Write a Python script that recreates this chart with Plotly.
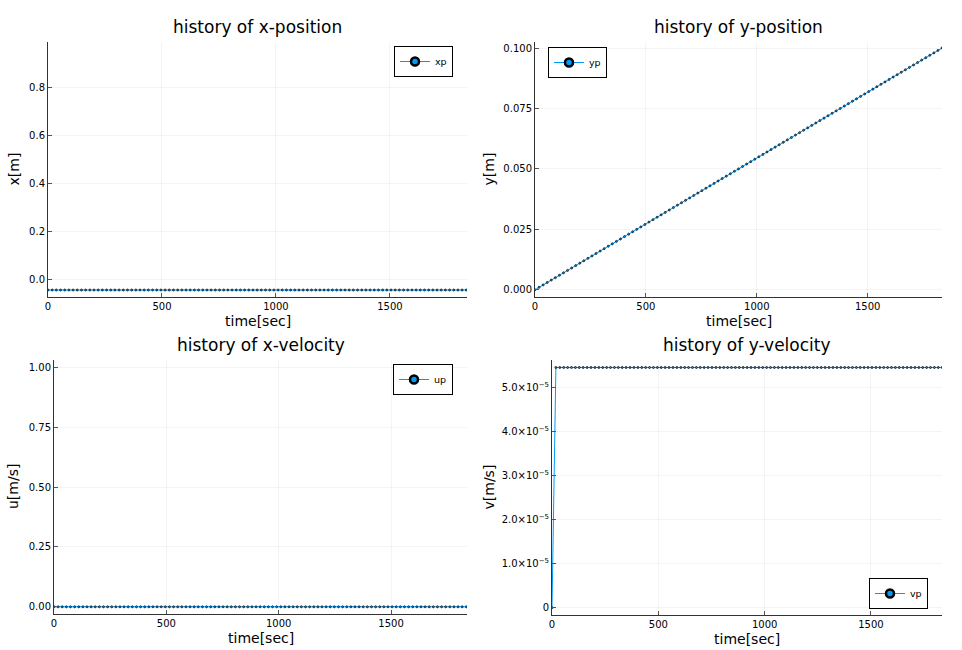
import plotly.graph_objects as go

# ---------------- data ----------------
time = [0.00, 18.35, 36.70, 55.05, 73.40, 91.75, 110.10, 128.45, 146.80, 165.15,
        183.50, 201.85, 220.20, 238.55, 256.90, 275.25, 293.60, 311.95, 330.30, 348.65,
        367.00, 385.35, 403.70, 422.05, 440.40, 458.75, 477.10, 495.45, 513.80, 532.15,
        550.50, 568.85, 587.20, 605.55, 623.90, 642.25, 660.60, 678.95, 697.30, 715.65,
        734.00, 752.35, 770.70, 789.05, 807.40, 825.75, 844.10, 862.45, 880.80, 899.15,
        917.50, 935.85, 954.20, 972.55, 990.90, 1009.25, 1027.60, 1045.95, 1064.30, 1082.65,
        1101.00, 1119.35, 1137.70, 1156.05, 1174.40, 1192.75, 1211.10, 1229.45, 1247.80, 1266.15,
        1284.50, 1302.85, 1321.20, 1339.55, 1357.90, 1376.25, 1394.60, 1412.95, 1431.30, 1449.65,
        1468.00, 1486.35, 1504.70, 1523.05, 1541.40, 1559.75, 1578.10, 1596.45, 1614.80, 1633.15,
        1651.50, 1669.85, 1688.20, 1706.55, 1724.90, 1743.25, 1761.60, 1779.95, 1798.30, 1816.65,
        1835.00]

xp = [-0.042] * 101

yp = [0.000, 0.001, 0.002, 0.003, 0.004, 0.005, 0.006, 0.007, 0.008, 0.009,
      0.010, 0.011, 0.012, 0.013, 0.014, 0.015, 0.016, 0.017, 0.018, 0.019,
      0.020, 0.021, 0.022, 0.023, 0.024, 0.025, 0.026, 0.027, 0.028, 0.029,
      0.030, 0.031, 0.032, 0.033, 0.034, 0.035, 0.036, 0.037, 0.038, 0.039,
      0.040, 0.041, 0.042, 0.043, 0.044, 0.045, 0.046, 0.047, 0.048, 0.049,
      0.050, 0.051, 0.052, 0.053, 0.054, 0.055, 0.056, 0.057, 0.058, 0.059,
      0.060, 0.061, 0.062, 0.063, 0.064, 0.065, 0.066, 0.067, 0.068, 0.069,
      0.070, 0.071, 0.072, 0.073, 0.074, 0.075, 0.076, 0.077, 0.078, 0.079,
      0.080, 0.081, 0.082, 0.083, 0.084, 0.085, 0.086, 0.087, 0.088, 0.089,
      0.090, 0.091, 0.092, 0.093, 0.094, 0.095, 0.096, 0.097, 0.098, 0.099,
      0.100]

up = [0.0] * 101

vp = [0.0] + [5.45e-5] * 100

x_ticks = [0, 500, 1000, 1500]
x_ticklabels = ["0", "500", "1000", "1500"]
xp_ticks = [0.0, 0.2, 0.4, 0.6, 0.8]
xp_ticklabels = ["0.0", "0.2", "0.4", "0.6", "0.8"]
yp_ticks = [0.0, 0.025, 0.05, 0.075, 0.1]
yp_ticklabels = ["0.000", "0.025", "0.050", "0.075", "0.100"]
up_ticks = [0.0, 0.25, 0.5, 0.75, 1.0]
up_ticklabels = ["0.00", "0.25", "0.50", "0.75", "1.00"]
vp_ticks = [0.0, 1e-5, 2e-5, 3e-5, 4e-5, 5e-5]
vp_ticklabels = ["0", "1.0×10<sup>−5</sup>", "2.0×10<sup>−5</sup>", "3.0×10<sup>−5</sup>",
                 "4.0×10<sup>−5</sup>", "5.0×10<sup>−5</sup>"]

titles = ["history of x-position", "history of y-position",
          "history of x-velocity", "history of y-velocity"]
ylabels = ["x[m]", "y[m]", "u[m/s]", "v[m/s]"]
names = ["xp", "yp", "up", "vp"]

# ---------------- layout helpers ----------------
W, H = 962, 650
BLUE = "#009AFA"
FONT = "DejaVu Sans"

# pixel boxes: (left, right, top, bottom)
boxes = [(48, 467, 42, 297), (535, 942, 42, 297), (54, 467, 360, 614), (552, 942, 360, 615)]
yranges = [[-0.071, 0.99], [-0.003, 0.1025], [-0.03, 1.03], [-1.66e-6, 5.62e-5]]
xranges = [[0, 1838], [0, 1835], [0, 1838], [0, 1834]]
yticks = [(xp_ticks, xp_ticklabels), (yp_ticks, yp_ticklabels),
          (up_ticks, up_ticklabels), (vp_ticks, vp_ticklabels)]
series = [xp, yp, up, vp]
legend_pos = [dict(x=453, y=46, xanchor="right", yanchor="top"),
              dict(x=548, y=47, xanchor="left", yanchor="top"),
              dict(x=453, y=364, xanchor="right", yanchor="top"),
              dict(x=928, y=609, xanchor="right", yanchor="bottom")]
ylabel_x = [13, 488, 13, 488]

fig = go.Figure()
layout = dict(width=W, height=H, margin=dict(l=0, r=0, t=0, b=0, autoexpand=False),
              paper_bgcolor="white", plot_bgcolor="white",
              font=dict(family=FONT, color="black", size=11), annotations=[])

for i in range(4):
    k = "" if i == 0 else str(i + 1)
    L, R, T, B = boxes[i]
    legname = "legend" if i == 0 else "legend" + str(i + 1)
    fig.add_trace(go.Scatter(x=time, y=series[i], mode="lines+markers",
                             line=dict(color=BLUE, width=1),
                             marker=dict(size=2, color=BLUE, line=dict(color="#111111", width=0.8)),
                             showlegend=False, xaxis="x" + k, yaxis="y" + k))
    fig.add_trace(go.Scatter(x=[None], y=[None], mode="lines+markers", name=names[i],
                             line=dict(color=BLUE, width=1),
                             marker=dict(size=8, color=BLUE, line=dict(color="black", width=2.5)),
                             showlegend=True, legend=legname, xaxis="x" + k, yaxis="y" + k))
    axcommon = dict(showline=True, linecolor="#333333", linewidth=1, mirror=False,
                    ticks="inside", ticklen=4, tickcolor="#555555", zeroline=False,
                    showgrid=True, gridcolor="rgba(0,0,0,0.045)", gridwidth=0.5,
                    tickfont=dict(family=FONT, size=10, color="black"))
    layout["xaxis" + k] = dict(domain=[L / W, R / W], anchor="y" + k, range=xranges[i],
                               tickvals=x_ticks, ticktext=x_ticklabels, **axcommon)
    layout["yaxis" + k] = dict(domain=[1 - B / H, 1 - T / H], anchor="x" + k, range=yranges[i],
                               tickvals=yticks[i][0], ticktext=yticks[i][1], **axcommon)
    lp = legend_pos[i]
    layout[legname] = dict(x=lp["x"] / W, y=1 - lp["y"] / H, xanchor=lp["xanchor"],
                           yanchor=lp["yanchor"], xref="paper", yref="paper",
                           bgcolor="white", bordercolor="black", borderwidth=1,
                           font=dict(family=FONT, size=9.5, color="black"),
                           itemwidth=30, tracegroupgap=0)
    cx = (L + R) / 2
    layout["annotations"].append(dict(text=titles[i], x=cx / W, y=1 - (T - 15) / H,
                                      xref="paper", yref="paper", showarrow=False,
                                      xanchor="center", yanchor="middle",
                                      font=dict(family=FONT, size=17, color="black")))
    layout["annotations"].append(dict(text="time[sec]", x=cx / W, y=1 - (B + 24) / H,
                                      xref="paper", yref="paper", showarrow=False,
                                      xanchor="center", yanchor="middle",
                                      font=dict(family=FONT, size=14, color="black")))
    layout["annotations"].append(dict(text=ylabels[i], x=ylabel_x[i] / W, y=1 - ((T + B) / 2) / H,
                                      xref="paper", yref="paper", showarrow=False, textangle=-90,
                                      xanchor="center", yanchor="middle",
                                      font=dict(family=FONT, size=14, color="black")))

fig.update_layout(**layout)
fig.write_html("out.html", config={"displayModeBar": False},
               post_script="document.body.style.margin='0';document.body.style.overflow='hidden';")
